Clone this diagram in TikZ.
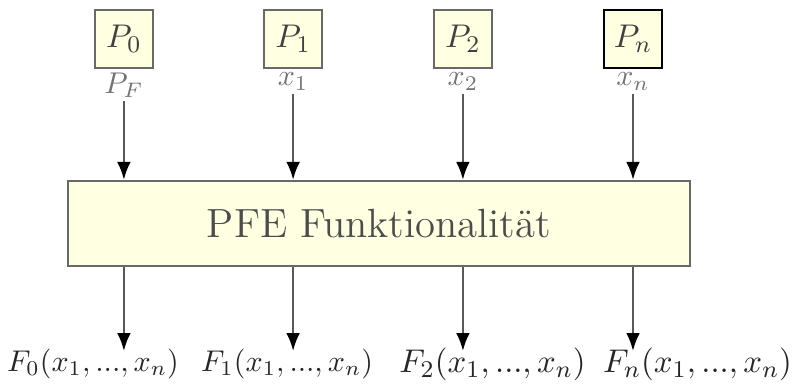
\documentclass[tikz,border=0pt]{standalone}
\usepackage{amsmath}
\usepackage{tikz}
\usetikzlibrary{arrows.meta, positioning}
\definecolor{boxfill}{RGB}{255,255,226}
\definecolor{boxline}{RGB}{105,105,105}
\tikzstyle{party} = [rectangle, minimum width=19.3pt, minimum height=19.3pt, inner sep=0pt, draw=boxline, line width=0.8pt, fill=boxfill, text=black!75, font=\fontsize{11}{13}\selectfont]
\tikzstyle{process} = [rectangle, minimum width=207.3pt, minimum height=28.3pt, draw=boxline, line width=0.8pt, fill=boxfill, text=black!70, font=\fontsize{13.6}{16}\selectfont]
\tikzstyle{input} = [text=black!55, inner sep=1pt]
\tikzstyle{output} = [text=black!85, inner sep=0pt]
\tikzstyle{arrow} = [line width=0.8pt, draw=black!65, -{Latex[color=black, length=6pt, width=4.6pt]}]

\begin{document}
\begin{tikzpicture}

\useasboundingbox (0,0) rectangle (267pt,-129.7pt);

\node (pfe) [process] at (126.3pt,-74.5pt) {PFE Funktionalit\"at};

\node (p0) [party] at (41.3pt,-13pt) {$P_0$};
\node (p1) [party] at (97.7pt,-13pt) {$P_1$};
\node (p2) [party] at (154.3pt,-13pt) {$P_2$};
\node (pn) [party, draw=black] at (211pt,-13pt) {$P_n$};

\node (in0) [input, below=0pt of p0] {$P_F$};
\node (in1) [input, below=0pt of p1] {$x_1$};
\node (in2) [input, below=0pt of p2] {$x_2$};
\node (inn) [input, below=0pt of pn] {$x_n$};

\coordinate (o0) at (41.3pt,-117pt);
\coordinate (o1) at (97.7pt,-117pt);
\coordinate (o2) at (154.3pt,-117pt);
\coordinate (on) at (211pt,-117pt);

\node (out0) [output] at (31pt,-121.3pt) {$F_0(x_1,...,x_n)$};
\node (out1) [output] at (95.7pt,-121.3pt) {$F_1(x_1,...,x_n)$};
\node (out2) [output, font=\fontsize{11.2}{14}\selectfont] at (164.2pt,-121.3pt) {$F_2(x_1,...,x_n)$};
\node (outn) [output, font=\fontsize{11.2}{14}\selectfont] at (232.5pt,-121.3pt) {$F_n(x_1,...,x_n)$};

\draw [arrow] (in0) -- (in0 |- pfe.north);
\draw [arrow] (in1) -- (in1 |- pfe.north);
\draw [arrow] (in2) -- (in2 |- pfe.north);
\draw [arrow] (inn) -- (inn |- pfe.north);

\draw [arrow] (pfe.south -| o0) -- (o0);
\draw [arrow] (pfe.south -| o1) -- (o1);
\draw [arrow] (pfe.south -| o2) -- (o2);
\draw [arrow] (pfe.south -| on) -- (on);

\end{tikzpicture}
\end{document}
